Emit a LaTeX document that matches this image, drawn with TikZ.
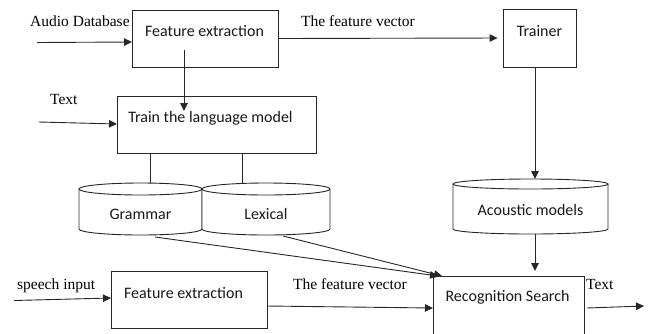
\documentclass[tikz,border=0pt]{standalone}
\usepackage{fontspec}
\setmainfont{Liberation Serif}
\newfontfamily\boxfont{Carlito}
\usetikzlibrary{arrows.meta}
\tikzset{
  ln/.style={draw=black!85, line width=0.9bp},
  arr/.style={ln, -{Triangle[length=8bp,width=7.5bp]}},
  blk/.style={ln, rectangle, inner sep=0pt, fill=white},
  intxt/.style={font=\boxfont\fontsize{16bp}{18bp}\selectfont, text=black!90, inner sep=0pt, anchor=base},
  outtxt/.style={font=\fontsize{15.5bp}{17bp}\selectfont, text=black, inner sep=0pt, anchor=base west},
}
% cylinder drawn from left x, right x, top-ellipse centre y, bottom-ellipse centre y, half height
\newcommand{\drum}[5]{%
  \pgfmathsetmacro{\cx}{(#1+#2)/2}\pgfmathsetmacro{\rx}{(#2-#1)/2}%
  \fill[white] (#1,#3) -- (#1,#4) arc[start angle=180,end angle=360,x radius=\rx,y radius=-#5] -- (#2,#3) -- cycle;
  \fill[white] (\cx,#3) ellipse[x radius=\rx,y radius=#5];
  \draw[ln] (#1,#3) -- (#1,#4) arc[start angle=180,end angle=360,x radius=\rx,y radius=-#5] -- (#2,#3);
  \draw[ln] (\cx,#3) ellipse[x radius=\rx,y radius=#5];
}
\begin{document}
\begin{tikzpicture}[x=1bp,y=-1bp]
\useasboundingbox (0,0) rectangle (648,333);

% boxes
\node[blk, minimum width=146bp, minimum height=57bp] (fe1) at (205,38.5) {};
\node[blk, minimum width=73bp, minimum height=58bp] (trainer) at (539.5,38) {};
\node[blk, minimum width=199bp, minimum height=57bp] (lm) at (216.5,124.5) {};
\node[blk, minimum width=156bp, minimum height=57bp] (fe2) at (189,299.5) {};
\node[blk, minimum width=151bp, minimum height=70bp] (rs) at (508.5,311) {};

% box texts
\node[intxt] (fe1t) at (204.5,36) {Feature extraction};
\node[intxt] (trainert) at (539.5,36) {Trainer};
\node[intxt] (lmt) at (210.5,122) {Train the language model};
\node[intxt] (fe2t) at (183.5,298) {Feature extraction};
\node[intxt] (rst) at (507.5,301) {Recognition Search};

% lines from language model down to the stores
\draw[ln] (150,153) -- (150,183);
\draw[ln] (242,153) -- (242,183);

% stores
\drum{79}{202}{189}{229}{6}
\drum{202}{330}{189}{229}{6}
\drum{453}{608}{184}{229}{5}
\node[intxt] (gram) at (140.5,219) {Grammar};
\node[intxt] (lex) at (266,219) {Lexical};
\node[intxt] (ac) at (530.5,215) {Acoustic models};

% outside labels
\node[outtxt] (audio) at (30,26) {Audio Database};
\node[outtxt] (txtin) at (50,104) {Text};
\node[outtxt] (fv1) at (301,26) {The feature vector};
\node[outtxt] (speech) at (17,289) {speech input};
\node[outtxt] (fv2) at (293,289) {The feature vector};
\node[outtxt] (txtout) at (586,289) {Text};

% connector end points
\coordinate (a0) at (37,42.5);
\coordinate (a1) at (132,42);
\coordinate (d0) at (184,50);
\coordinate (d1) at (184,111);
\coordinate (t0) at (39,122);
\coordinate (t1) at (117,124);
\coordinate (tr0) at (535,67);
\coordinate (tr1) at (535,179);
\coordinate (ac0) at (535,234);
\coordinate (ac1) at (535,271);
\coordinate (g0) at (155,237);
\coordinate (g1) at (438,276);
\coordinate (l0) at (283,236);
\coordinate (l1) at (442,276);
\coordinate (s0) at (14,300.5);
\coordinate (s1) at (111,298);
\coordinate (f0) at (267,306);
\coordinate (f1) at (433,308);
\coordinate (o0) at (587,308);
\coordinate (o1) at (644,306);

% connectors
\draw[arr] (a0) -- (a1);
\draw[arr, shorten >=5bp] (fe1.east) -- (trainer.west);
\draw[arr] (d0) -- (d1);
\draw[arr] (t0) -- (t1);
\draw[arr] (tr0) -- (tr1);
\draw[arr] (ac0) -- (ac1);
\draw[arr] (g0) -- (g1);
\draw[arr] (l0) -- (l1);
\draw[arr] (s0) -- (s1);
\draw[arr] (f0) -- (f1);
\draw[arr] (o0) -- (o1);
\end{tikzpicture}
\end{document}
